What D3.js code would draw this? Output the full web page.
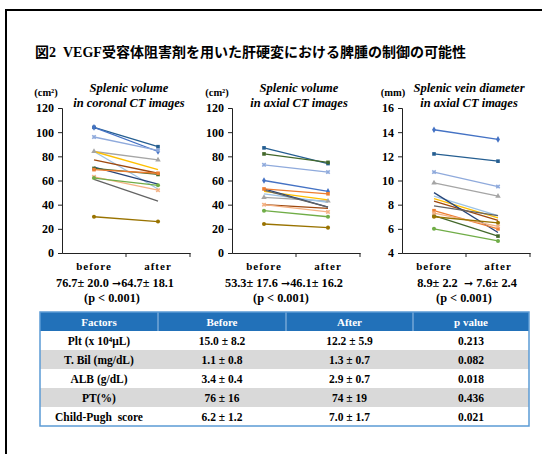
<!DOCTYPE html>
<html>
<head>
<meta charset="utf-8">
<script src="https://cdn.jsdelivr.net/npm/d3@7"></script>
<style>
  body { margin: 0; background: #fff; }
  svg { display: block; }
  text { font-family: "Liberation Serif", "Noto Sans CJK JP", serif; font-weight: bold; }
</style>
</head>
<body>
<svg width="542" height="454"></svg>
<script>
// ---- data ----
const categories = ['before', 'after'];
const volumeTicks = [0, 20, 40, 60, 80, 100, 120];
const veinTicks = [4, 6, 8, 10, 12, 14, 16];

// one entry per patient, same order in each panel
const coronalBefore = [104, 104, 96, 84, 84, 84, 77, 71, 70, 69, 63, 62, 61, 30];
const coronalAfter  = [88, 84, 85, 77, 53, 69, 66, 57, 65, 66, 52, 56, 43, 26];
const axialBefore   = [87, 60, 73, 46, 49, 51, 40, 53, 82, 53, 40, 35, 52, 24];
const axialAfter    = [74, 51, 67, 43, 42, 44, 37, 38, 75, 49, 34, 30, 38, 21];
const veinBefore    = [12.2, 14.2, 10.7, 9.8, 8.7, 8.5, 8.3, 9.0, 7.1, 7.5, 7.3, 6.0, 7.9, 7.0];
const veinAfter     = [11.6, 13.4, 9.5, 8.7, 7.1, 6.9, 6.7, 5.7, 5.4, 6.0, 6.2, 5.0, 7.1, 6.5];

const tableHeader = ['Factors', 'Before', 'After', 'p value'];
const factors   = ['Plt (x 10\u2074\u03bcL)', 'T. Bil (mg/dL)', 'ALB (g/dL)', 'PT(%)', 'Child-Pugh  score'];
const beforeCol = ['15.0 \u00b1 8.2', '1.1 \u00b1 0.8', '3.4 \u00b1 0.4', '76 \u00b1 16', '6.2 \u00b1 1.2'];
const afterCol  = ['12.2 \u00b1 5.9', '1.3 \u00b1 0.7', '2.9 \u00b1 0.7', '74 \u00b1 19', '7.0 \u00b1 1.7'];
const pCol      = ['0.213', '0.082', '0.018', '0.436', '0.021'];

// ---- styles ----
const colors = ['#255e91', '#4472c4', '#8faadc', '#a5a5a5', '#9dc3e6', '#ffc000', '#9e480e',
                '#264478', '#43682b', '#ed7d31', '#f4b183', '#70ad47', '#636363', '#997300'];
const markers = ['square', 'diamond', 'x', 'triangle', 'none', 'none', 'none',
                 'none', 'square', 'square', 'x', 'circle', 'none', 'circle'];

const svg = d3.select('svg');
svg.append('rect').attr('width', 542).attr('height', 454).attr('fill', '#fff');

// frame
svg.append('path').attr('d', 'M6,454V10H542').attr('fill', 'none')
  .attr('stroke', '#000').attr('stroke-width', 2);

svg.append('text').attr('x', 35).attr('y', 57).attr('font-size', 14)
  .attr('xml:space', 'preserve').style('white-space', 'pre')
  .text('図2  VEGF受容体阻害剤を用いた肝硬変における脾腫の制御の可能性');

const panels = [
  { left: 62, title: ['Splenic volume', 'in coronal CT images'], unit: '(cm\u00b2)', unitX: 46,
    before: coronalBefore, after: coronalAfter, domain: [0, 120], ticks: volumeTicks,
    stats: ['76.7\u00b1 20.0 ', '64.7\u00b1 18.1'], statsX: 115 },
  { left: 232, title: ['Splenic volume', 'in axial CT images'], unit: '(cm\u00b2)', unitX: 217,
    before: axialBefore, after: axialAfter, domain: [0, 120], ticks: volumeTicks,
    stats: ['53.3\u00b1 17.6 ', '46.1\u00b1 16.2'], statsX: 284 },
  { left: 402, title: ['Splenic vein diameter', 'in axial CT images'], unit: '(mm)', unitX: 393,
    before: veinBefore, after: veinAfter, domain: [4, 16], ticks: veinTicks,
    stats: ['8.9\u00b1 2.2  ', ' 7.6\u00b1 2.4'], statsX: 467 }
];

const symbolType = {
  square: d3.symbolSquare, diamond: d3.symbolDiamond, x: d3.symbolCross,
  triangle: d3.symbolTriangle, circle: d3.symbolCircle
};

panels.forEach(p => {
  const g = svg.append('g');
  const y = d3.scaleLinear().domain(p.domain).range([253, 108]);
  const x = d3.scaleBand().domain(categories).range([p.left, p.left + 128]);
  const cx = c => x(c) + x.bandwidth() / 2;

  // y axis
  const ya = g.append('g').attr('transform', `translate(${p.left},0)`)
    .call(d3.axisLeft(y).tickValues(p.ticks).tickSize(4).tickPadding(4));
  ya.select('.domain').attr('stroke', '#222');
  ya.selectAll('.tick line').attr('stroke', '#222');
  ya.selectAll('text').attr('font-size', 12).attr('fill', '#000')
    .attr('font-family', '"Liberation Serif", serif').attr('font-weight', 'bold');

  // x axis
  const xa = g.append('g').attr('transform', 'translate(0,253)')
    .call(d3.axisBottom(x).tickSize(0).tickPadding(9));
  xa.select('.domain').attr('stroke', '#222');
  xa.selectAll('text').attr('font-size', 11).attr('fill', '#000').attr('letter-spacing', 1)
    .attr('font-family', '"Liberation Serif", serif').attr('font-weight', 'bold');
  g.selectAll('.xtick').data(categories).enter().append('line')
    .attr('x1', d => x(d) + x.bandwidth()).attr('x2', d => x(d) + x.bandwidth())
    .attr('y1', 253).attr('y2', 257).attr('stroke', '#222');

  // titles
  const tc = p.left + 67;
  p.title.forEach((t, i) => {
    g.append('text').attr('x', tc).attr('y', 92 + i * 14.5).attr('text-anchor', 'middle')
      .attr('font-size', 12.5).attr('font-style', 'italic').text(t);
  });
  g.append('text').attr('x', p.unitX).attr('y', 96).attr('text-anchor', 'middle')
    .attr('font-size', 10.5).text(p.unit);

  // lines
  const idx = d3.range(p.before.length);
  g.selectAll('.pl').data(idx).enter().append('line')
    .attr('x1', cx('before')).attr('x2', cx('after'))
    .attr('y1', i => y(p.before[i])).attr('y2', i => y(p.after[i]))
    .attr('stroke', i => colors[i]).attr('stroke-width', 1.3);

  idx.forEach(i => {
    if (markers[i] === 'none') return;
    [['before', p.before[i]], ['after', p.after[i]]].forEach(([c, v]) => {
      g.append('path')
        .attr('d', d3.symbol(symbolType[markers[i]], 13)())
        .attr('transform', `translate(${cx(c)},${y(v)}) rotate(${markers[i] === 'x' ? 45 : 0})`)
        .attr('fill', colors[i]);
    });
  });

  // stats
  const st = g.append('text').attr('x', p.statsX).attr('y', 287).attr('text-anchor', 'middle')
    .attr('font-size', 12.3).attr('xml:space', 'preserve').style('white-space', 'pre');
  st.append('tspan').text(p.stats[0]);
  st.append('tspan').attr('font-family', '"DejaVu Sans", sans-serif').attr('font-size', 11).text('\u279e');
  st.append('tspan').text(p.stats[1]);
  g.append('text').attr('x', p.statsX - 3).attr('y', 302).attr('text-anchor', 'middle')
    .attr('font-size', 12.3).text('(p < 0.001)');
});

// ---- table ----
const colEdges = [40, 158, 286, 413, 529];
const headTop = 312, headH = 19, rowH = 19;
const tbl = svg.append('g');
tbl.append('rect').attr('x', 40).attr('y', headTop).attr('width', 489).attr('height', headH)
  .attr('fill', '#2271b9');
const rows = d3.range(factors.length);
tbl.selectAll('.row').data(rows).enter().append('rect')
  .attr('x', 40).attr('y', i => headTop + headH + i * rowH)
  .attr('width', 489).attr('height', rowH)
  .attr('fill', i => i % 2 ? '#d9d9d9' : '#fff');
colEdges.slice(1, 4).forEach(cxv => {
  tbl.append('line').attr('x1', cxv).attr('x2', cxv).attr('y1', headTop).attr('y2', headTop + headH)
    .attr('stroke', '#9cc2e5').attr('stroke-width', 1);
});
tbl.append('rect').attr('x', 40).attr('y', headTop).attr('width', 489)
  .attr('height', headH + rowH * factors.length)
  .attr('fill', 'none').attr('stroke', '#5b9bd5').attr('stroke-width', 1.5);

const colMid = d3.range(4).map(i => (colEdges[i] + colEdges[i + 1]) / 2);
tableHeader.forEach((h, j) => {
  tbl.append('text').attr('x', colMid[j]).attr('y', headTop + 13.5).attr('text-anchor', 'middle')
    .attr('font-size', 11).attr('fill', '#fff').text(h);
});
const cols = [factors, beforeCol, afterCol, pCol];
cols.forEach((col, j) => {
  tbl.selectAll('.c' + j).data(col).enter().append('text')
    .attr('x', colMid[j]).attr('y', (d, i) => headTop + headH + i * rowH + 13.8)
    .attr('text-anchor', 'middle').attr('font-size', 11.5).attr('fill', '#000')
    .attr('xml:space', 'preserve').style('white-space', 'pre').text(d => d);
});
</script>
</body>
</html>
